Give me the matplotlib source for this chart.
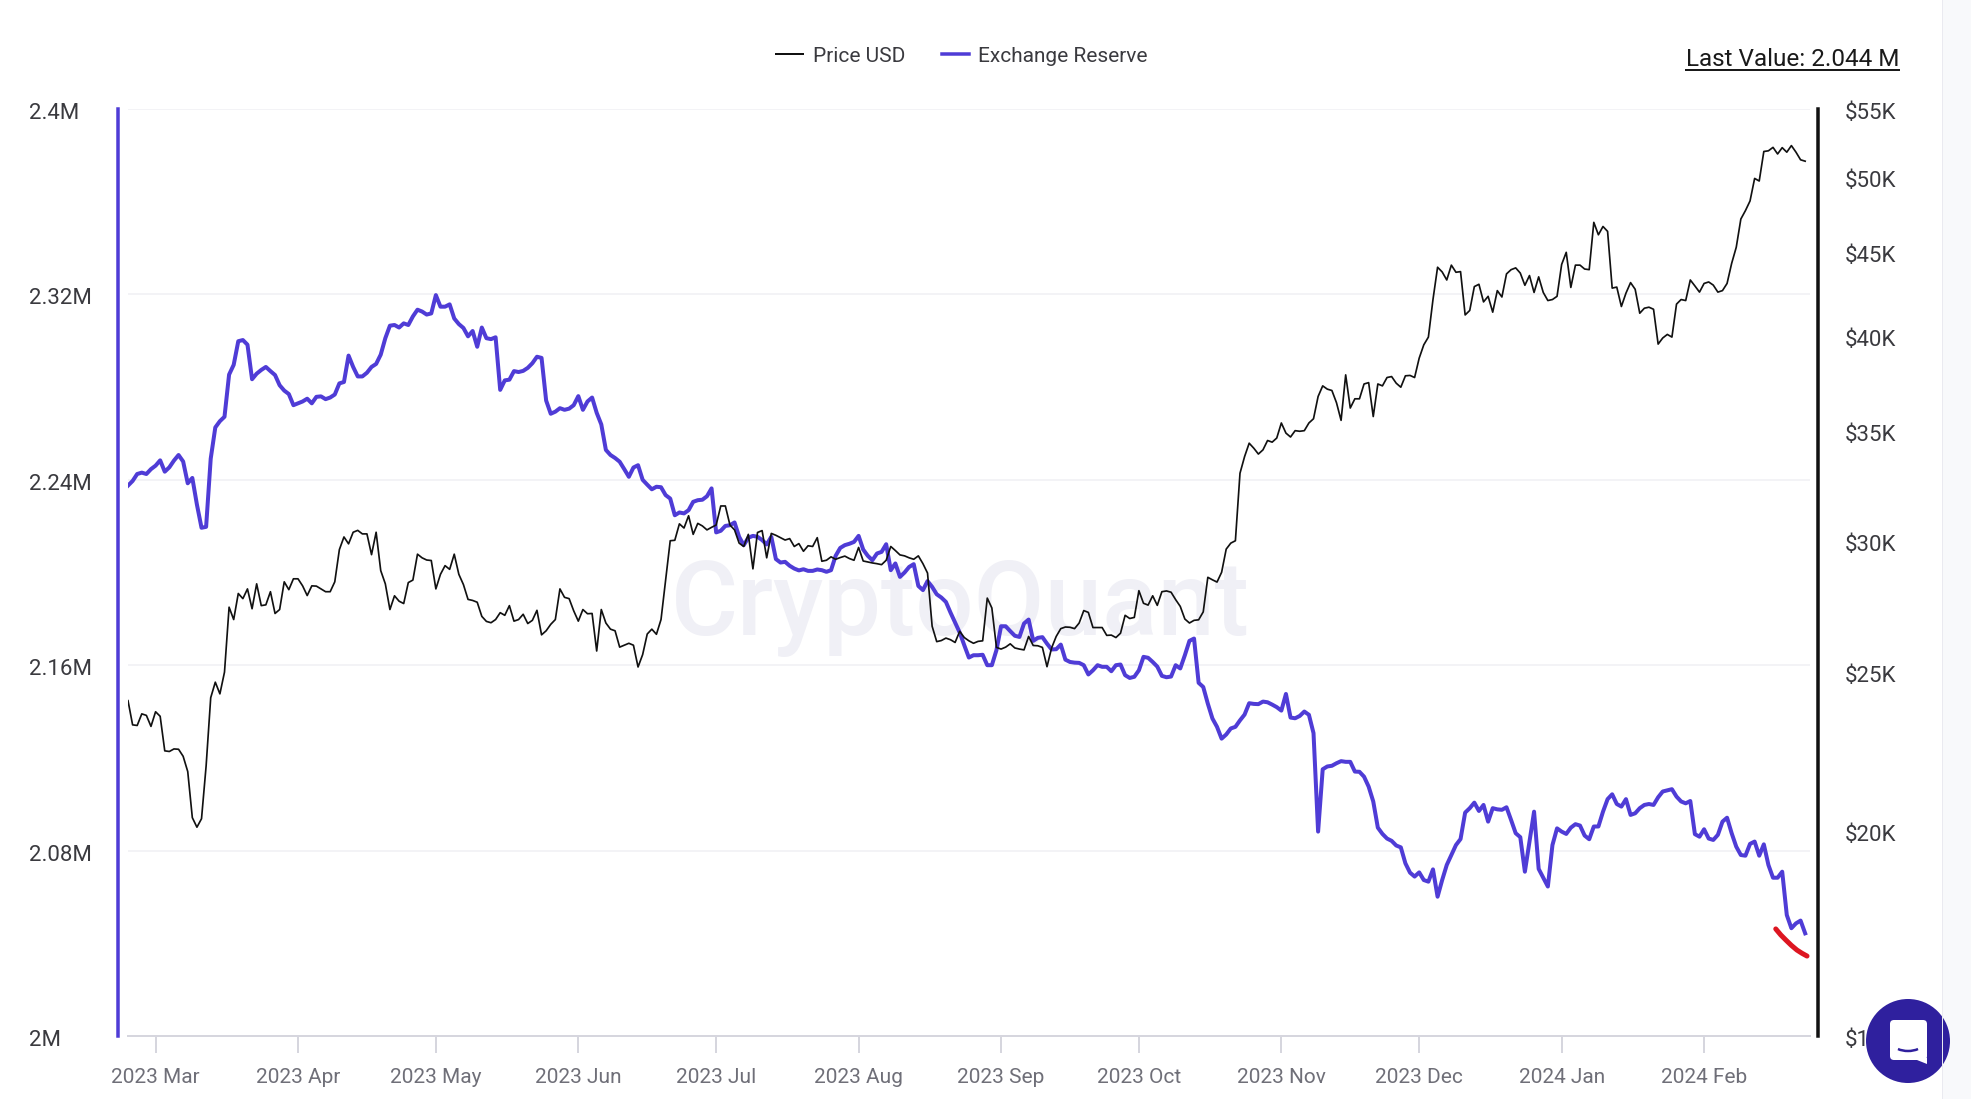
import pandas as pd
import matplotlib
matplotlib.use("Agg")
import matplotlib.pyplot as plt
from matplotlib.patches import Rectangle, Ellipse, FancyBboxPatch, Polygon, Arc
from matplotlib.transforms import ScaledTranslation

plt.rcParams["font.family"] = ["Roboto", "DejaVu Sans"]

W, H = 1971, 1099
PX = 72 / 100  # points per pixel at dpi 100

BLUE = "#4f3cd6"
LABEL = "#3a3a3f"
X_LABEL = "#6f6f78"
GRID = "#f3f3f6"
AXIS = "#d6d6de"
FONT = 15
Y_FONT = 16

# daily values, 2023-02-23 to 2024-02-23
start_date = "2023-02-23"

exchange_reserve = [
    2.2375, 2.2395, 2.2425, 2.2431, 2.2425, 2.2446, 2.2461, 2.2484, 2.2435, 2.2454,
    2.2483, 2.2507, 2.2479, 2.2385, 2.2408, 2.2293, 2.2193, 2.2197, 2.2491, 2.2626,
    2.2653, 2.2672, 2.2854, 2.2896, 2.2998, 2.3003, 2.2983, 2.2834, 2.2858, 2.2874,
    2.2887, 2.2869, 2.2852, 2.2808, 2.2785, 2.2770, 2.2722, 2.2730, 2.2738, 2.2750,
    2.2730, 2.2758, 2.2760, 2.2748, 2.2755, 2.2768, 2.2816, 2.2822, 2.2936, 2.2887,
    2.2846, 2.2846, 2.2862, 2.2887, 2.2900, 2.2940, 2.3011, 2.3065, 2.3068, 2.3057,
    2.3075, 2.3068, 2.3105, 2.3134, 2.3126, 2.3113, 2.3118, 2.3197, 2.3147, 2.3147,
    2.3157, 2.3096, 2.3072, 2.3055, 2.3019, 2.3042, 2.2974, 2.3057, 2.3011, 2.3007,
    2.3015, 2.2788, 2.2829, 2.2832, 2.2869, 2.2865, 2.2870, 2.2883, 2.2903, 2.2931,
    2.2926, 2.2742, 2.2685, 2.2694, 2.2709, 2.2702, 2.2707, 2.2722, 2.2761, 2.2702,
    2.2738, 2.2755, 2.2689, 2.2639, 2.2529, 2.2507, 2.2494, 2.2478, 2.2446, 2.2413,
    2.2453, 2.2463, 2.2400, 2.2379, 2.2359, 2.2370, 2.2368, 2.2334, 2.2319, 2.2247,
    2.2259, 2.2255, 2.2269, 2.2305, 2.2312, 2.2314, 2.2329, 2.2363, 2.2173, 2.2180,
    2.2201, 2.2204, 2.2216, 2.2154, 2.2118, 2.2150, 2.2158, 2.2154, 2.2140, 2.2121,
    2.2154, 2.2058, 2.2043, 2.2046, 2.2029, 2.2017, 2.2009, 2.2014, 2.2007, 2.2007,
    2.2013, 2.2010, 2.2003, 2.2010, 2.2072, 2.2106, 2.2118, 2.2124, 2.2132, 2.2158,
    2.2099, 2.2072, 2.2053, 2.2082, 2.2089, 2.2122, 2.2010, 2.2039, 2.1981, 2.2000,
    2.2024, 2.2036, 2.1942, 2.1924, 2.1963, 2.1938, 2.1906, 2.1892, 2.1873, 2.1827,
    2.1784, 2.1741, 2.1686, 2.1633, 2.1643, 2.1643, 2.1645, 2.1600, 2.1600, 2.1665,
    2.1768, 2.1768, 2.1747, 2.1727, 2.1722, 2.1780, 2.1797, 2.1705, 2.1718, 2.1721,
    2.1693, 2.1668, 2.1669, 2.1689, 2.1624, 2.1614, 2.1611, 2.1610, 2.1600, 2.1560,
    2.1578, 2.1600, 2.1593, 2.1593, 2.1574, 2.1600, 2.1603, 2.1557, 2.1545, 2.1550,
    2.1578, 2.1636, 2.1632, 2.1614, 2.1594, 2.1554, 2.1548, 2.1551, 2.1600, 2.1586,
    2.1643, 2.1705, 2.1715, 2.1524, 2.1506, 2.1434, 2.1370, 2.1334, 2.1283, 2.1301,
    2.1327, 2.1334, 2.1362, 2.1387, 2.1436, 2.1433, 2.1432, 2.1443, 2.1440, 2.1430,
    2.1419, 2.1404, 2.1476, 2.1374, 2.1371, 2.1381, 2.1400, 2.1386, 2.1307, 2.0882,
    2.1151, 2.1163, 2.1166, 2.1177, 2.1186, 2.1183, 2.1183, 2.1141, 2.1140, 2.1119,
    2.1076, 2.1012, 2.0899, 2.0872, 2.0852, 2.0842, 2.0822, 2.0814, 2.0745, 2.0705,
    2.0688, 2.0706, 2.0673, 2.0666, 2.0719, 2.0601, 2.0673, 2.0738, 2.0781, 2.0824,
    2.0850, 2.0964, 2.0983, 2.1007, 2.0971, 2.0997, 2.0925, 2.0983, 2.0978, 2.0976,
    2.0987, 2.0932, 2.0875, 2.0858, 2.0709, 2.0839, 2.0968, 2.0721, 2.0683, 2.0645,
    2.0824, 2.0896, 2.0882, 2.0872, 2.0899, 2.0914, 2.0908, 2.0865, 2.0849, 2.0904,
    2.0904, 2.0968, 2.1022, 2.1043, 2.1001, 2.0990, 2.1022, 2.0954, 2.0961, 2.0983,
    2.0997, 2.1001, 2.0997, 2.1030, 2.1055, 2.1060, 2.1065, 2.1033, 2.1012, 2.1004,
    2.1014, 2.0871, 2.0860, 2.0892, 2.0852, 2.0846, 2.0868, 2.0925, 2.0942, 2.0875,
    2.0817, 2.0781, 2.0778, 2.0829, 2.0839, 2.0778, 2.0827, 2.0738, 2.0683, 2.0683,
    2.0709, 2.0522, 2.0465, 2.0486, 2.0498, 2.0443,
]

price_usd = [
    24000, 23200, 23180, 23560, 23510, 23150, 23630, 23480, 22370, 22350,
    22430, 22420, 22200, 21730, 20370, 20100, 20340, 21900, 24100, 24630,
    24230, 24980, 27360, 26890, 27890, 27690, 28070, 27300, 28270, 27420,
    27450, 27960, 27120, 27270, 28350, 28040, 28470, 28470, 28190, 27810,
    28190, 28180, 28070, 27960, 27960, 28350, 29660, 30190, 29900, 30390,
    30470, 30320, 30320, 29450, 30390, 28800, 28270, 27270, 27800, 27590,
    27500, 28320, 28420, 29470, 29320, 29230, 29210, 28070, 28650, 29000,
    28850, 29470, 28650, 28240, 27660, 27620, 27550, 27010, 26820, 26770,
    26890, 27150, 27050, 27420, 26830, 26890, 27090, 26740, 26860, 27240,
    26320, 26470, 26710, 26890, 28070, 27740, 27690, 27220, 26830, 27270,
    27110, 27120, 25730, 27270, 26760, 26530, 26470, 25870, 25940, 26010,
    25940, 25160, 25600, 26350, 26530, 26340, 26890, 28430, 30030, 30050,
    30750, 30570, 31100, 30300, 30770, 30660, 30490, 30600, 30700, 31530,
    31530, 30700, 30490, 29930, 29790, 30300, 28870, 30380, 30460, 29320,
    30340, 30260, 30160, 30060, 30120, 29790, 29910, 29590, 29820, 29790,
    30160, 29180, 29220, 29360, 29260, 29330, 29390, 29290, 29220, 29750,
    29190, 29150, 29110, 29080, 29040, 29220, 29790, 29620, 29440, 29400,
    29320, 29260, 29400, 29080, 28700, 26640, 26070, 26110, 26200, 26140,
    26040, 26450, 26220, 26100, 26010, 26080, 26100, 27710, 27330, 25860,
    25800, 25870, 25990, 25840, 25800, 25770, 26260, 25930, 25920, 25860,
    25170, 25840, 26260, 26550, 26610, 26600, 26550, 26760, 27230, 27160,
    26590, 26590, 26590, 26300, 26310, 26220, 26380, 27050, 26930, 26970,
    28000, 27510, 27440, 27800, 27430, 27960, 27990, 27940, 27650, 27390,
    26910, 26760, 26860, 26880, 27180, 28530, 28430, 28340, 28730, 29680,
    29930, 30030, 33010, 33790, 34430, 34190, 33910, 34110, 34560, 34480,
    34680, 35420, 34920, 34730, 35040, 35010, 35040, 35420, 35630, 36760,
    37310, 37140, 37070, 36440, 35550, 37890, 36170, 36640, 36640, 37410,
    37480, 35740, 37410, 37310, 37750, 37800, 37450, 37240, 37840, 37860,
    37750, 38790, 39520, 39950, 42110, 44060, 43770, 43280, 44190, 43750,
    43790, 41210, 41470, 42880, 43020, 41970, 42300, 41370, 42640, 42260,
    43650, 43910, 44020, 43700, 42960, 43550, 42530, 43470, 42530, 42050,
    42110, 42300, 44230, 44990, 42830, 44190, 44190, 43950, 43910, 46920,
    46110, 46650, 46330, 42790, 42850, 41700, 42490, 43120, 42720, 41310,
    41600, 41660, 41540, 39560, 39900, 40100, 39950, 41840, 42110, 42050,
    43280, 42920, 42550, 43070, 43160, 42970, 42550, 42640, 43070, 44300,
    45310, 47140, 47700, 48350, 49900, 49720, 51820, 51870, 52120, 51640,
    52100, 51770, 52250, 51770, 51220, 51120,
]

# hand drawn red mark next to the last values
red_days = [358.6, 359.7, 360.8, 362.0, 363.2, 364.3, 365.4]
red_values = [2.0462, 2.0436, 2.0414, 2.0391, 2.0371, 2.0357, 2.0345]

reserve_ticks = [2.0, 2.08, 2.16, 2.24, 2.32, 2.4]
reserve_labels = ["2M", "2.08M", "2.16M", "2.24M", "2.32M", "2.4M"]
price_ticks = [15000, 20000, 25000, 30000, 35000, 40000, 45000, 50000, 55000]
price_labels = ["$15K", "$20K", "$25K", "$30K", "$35K", "$40K", "$45K", "$50K", "$55K"]
month_ticks = pd.date_range("2023-03-01", "2024-02-01", freq="MS")
month_labels = [d.strftime("%Y %b") for d in month_ticks]

dates = pd.date_range(start_date, periods=len(exchange_reserve), freq="D")
red_dates = dates[0] + pd.to_timedelta(red_days, unit="D")

fig = plt.figure(figsize=(W / 100, H / 100), dpi=100, facecolor="white")
left, right, top, bottom = 128, 1810, 109, 1036
ax = fig.add_axes([left / W, 1 - bottom / H, (right - left) / W, (bottom - top) / H])
ax2 = ax.twinx()

# watermark sits under everything
ax.text(0.4947, 0.4326, "CryptoQuant", transform=ax.transAxes, ha="center", va="baseline",
        fontsize=74, fontweight="medium", color="#f0f0f6", zorder=0.5)

price_line, = ax2.plot(dates, price_usd, color="#111111", lw=1.7 * PX, label="Price USD", zorder=3)
reserve_line, = ax.plot(dates, exchange_reserve, color=BLUE, lw=4 * PX, label="Exchange Reserve", zorder=2)
ax.plot(red_dates, red_values, color="#dd1621", lw=5 * PX, solid_capstyle="round", zorder=4)

ax.set_xlim(dates[0], dates[0] + pd.Timedelta(days=366.05))
ax.set_ylim(2.0, 2.4)
ax.grid(True, axis="y", color=GRID, lw=2 * PX, zorder=1)
ax.set_axisbelow(True)
ax.set_xticks(month_ticks)
ax.set_xticklabels(month_labels)
ax.tick_params(axis="x", length=17 * PX, width=2 * PX, color=AXIS, pad=10.5, labelsize=FONT, labelcolor=X_LABEL)

ax2.set_yscale("log")
ax2.set_ylim(15000, 55000)
ax2.minorticks_off()

# ticks last, the log scale and twin axes reset them otherwise
ax.yaxis.set_ticks(reserve_ticks, labels=reserve_labels)
ax.tick_params(axis="y", length=0, pad=64, labelsize=Y_FONT, labelcolor=LABEL)
ax2.yaxis.set_ticks(price_ticks, labels=price_labels)
ax2.tick_params(axis="y", which="both", length=0, pad=19.5, labelsize=Y_FONT, labelcolor=LABEL)

for a in (ax, ax2):
    a.spines["top"].set_visible(False)
ax.spines["right"].set_visible(False)
ax.spines["left"].set_position(("outward", 10 * PX))
ax.spines["left"].set_color(BLUE)
ax.spines["left"].set_linewidth(3.5 * PX)
ax.spines["bottom"].set_color(AXIS)
ax.spines["bottom"].set_linewidth(2 * PX)
ax2.spines["left"].set_visible(False)
ax2.spines["bottom"].set_visible(False)
ax2.spines["right"].set_position(("outward", 8 * PX))
ax2.spines["right"].set_color("#111111")
ax2.spines["right"].set_linewidth(3.5 * PX)

fig.canvas.draw()
nudge = ScaledTranslation(0, -2 * PX / 72, fig.dpi_scale_trans)
for t in ax.get_yticklabels():
    t.set_horizontalalignment("left")
    t.set_transform(t.get_transform() + nudge)
for t in ax2.get_yticklabels():
    t.set_transform(t.get_transform() + nudge)

leg = fig.legend(
    [price_line, reserve_line],
    ["Price USD", "Exchange Reserve"],
    loc="center",
    bbox_to_anchor=(962 / W, 1 - 56 / H),
    ncol=2,
    frameon=False,
    fontsize=FONT,
    labelcolor=LABEL,
    handlelength=1.3,
    handletextpad=0.45,
    columnspacing=1.75,
    borderpad=0,
)
leg.get_lines()[0].set_linewidth(2 * PX)
leg.get_lines()[1].set_linewidth(3.5 * PX)

# overlay in pixel coordinates: last value text, side panel, chat bubble
over = fig.add_axes([0, 0, 1, 1], zorder=10)
over.set_xlim(0, W)
over.set_ylim(H, 0)
over.axis("off")

over.text(1899, 60, "Last Value: 2.044 M", ha="right", va="center", fontsize=17.5, color="#1a1a1a")
over.plot([1686, 1899], [70, 70], color="#1a1a1a", lw=2 * PX)

over.add_patch(Rectangle((1942, 0), W - 1942, H, facecolor="#f8f9fb", edgecolor="none"))
over.plot([1942, 1942], [0, H], color="#eaeaf0", lw=1 * PX)

over.add_patch(Ellipse((1908, 1041), 84, 84, facecolor="#2f209e", edgecolor="none"))
over.add_patch(FancyBboxPatch((1893, 1023), 31, 34, boxstyle="round,pad=3,rounding_size=4",
                              facecolor="white", edgecolor="none"))
over.add_patch(Polygon([[1912, 1058], [1927, 1058], [1927, 1064]], facecolor="white", edgecolor="none"))
over.add_patch(Arc((1908, 1042), 32, 18, theta1=35, theta2=145, color="#2f209e", lw=2.5 * PX))

fig.savefig("out.png", dpi=100)
